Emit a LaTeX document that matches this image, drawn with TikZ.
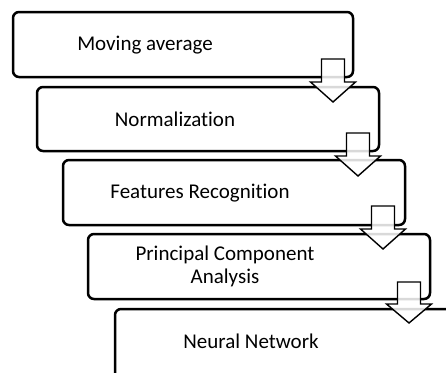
\documentclass[tikz,border=0pt]{standalone}
\usepackage{fontspec}
\setmainfont[Ligatures=NoCommon]{Carlito}
\begin{document}
\begin{tikzpicture}[x=1pt,y=-1pt,
  stage/.style={draw=black, line width=2.5pt, rounded corners=6pt, fill=white},
  label/.style={font=\fontsize{21}{23}\selectfont, align=center, inner sep=0pt},
  flowarrow/.style={draw=black, line width=1.4pt, fill=white, fill opacity=0.85, line join=miter}]
\useasboundingbox (0,0) rectangle (446,372);
\clip (0,0) rectangle (446,372);
% process stages
\draw[stage] (13,12) rectangle (353,77);
\draw[stage] (37,87) rectangle (379,151);
\draw[stage] (63,160) rectangle (405,225);
\draw[stage] (88,234) rectangle (430,299);
\draw[stage] (115,309) rectangle (458,378);
% stage names
\node[label] (t1) at (145,45) {Moving average};
\node[label] (t2) at (175,119) {Normalization};
\node[label] (t3) at (200,193) {Features Recognition};
\node[label] (t4) at (225,266) {Principal Component\\Analysis};
\node[label] (t5) at (251,341) {Neural Network};
% block arrows between consecutive stages: centre x, top, head base, tip
\newcommand{\flowstep}[4]{%
  \draw[flowarrow] (#1-11.5,#2) -- (#1+11.5,#2) -- (#1+11.5,#3) -- (#1+22.5,#3)
    -- (#1,#4) -- (#1-22.5,#3) -- (#1-11.5,#3) -- cycle;}
\flowstep{333}{59}{82}{102}
\flowstep{358}{133}{156}{176}
\flowstep{383}{206}{229}{249}
\flowstep{409}{282}{304}{323}
\end{tikzpicture}
\end{document}
